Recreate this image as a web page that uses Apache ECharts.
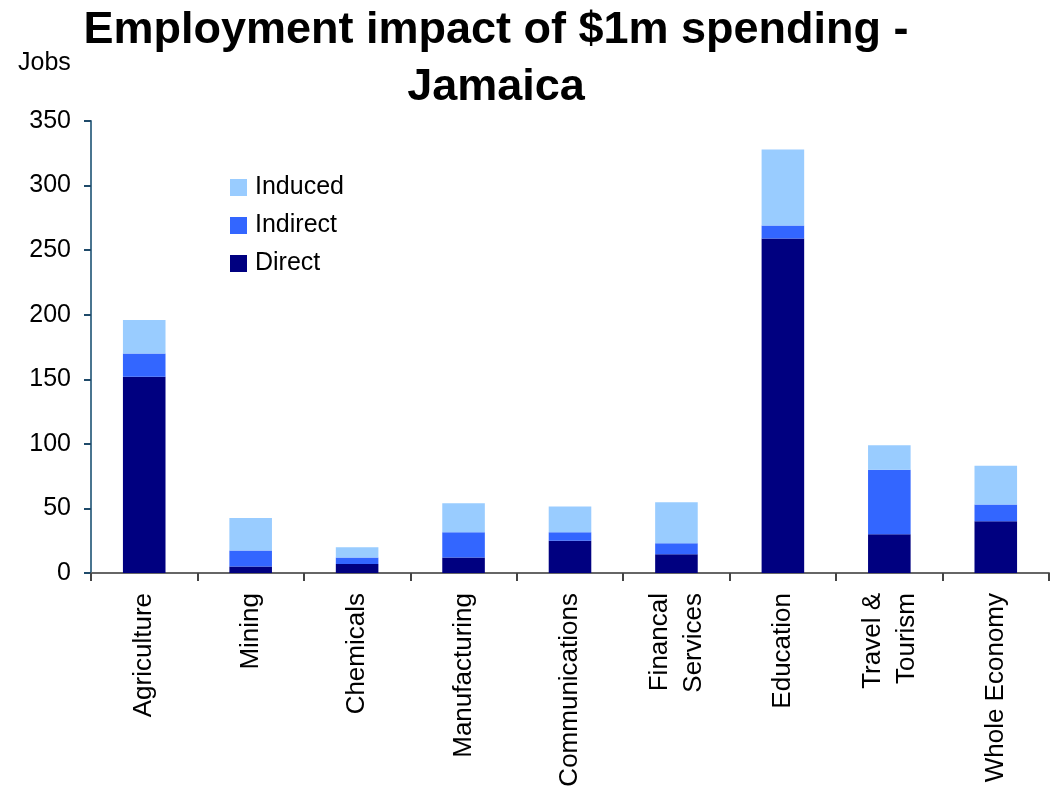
<!DOCTYPE html>
<html>
<head>
<meta charset="utf-8">
<script src="https://cdn.jsdelivr.net/npm/echarts@6/dist/echarts.min.js"></script>
<style>
  html, body { margin: 0; padding: 0; background: #ffffff; }
  #chart { width: 1052px; height: 790px; }
</style>
</head>
<body>
<div id="chart"></div>
<script>
// Jobs created per $1m spent, split by effect type
const categories = ['Agriculture', 'Mining', 'Chemicals', 'Manufacturing', 'Communications',
  'Financal\nServices', 'Education', 'Travel &\nTourism', 'Whole Economy'];
const direct   = [152, 5, 7, 12, 25, 14.5, 259, 30, 40];
const indirect = [18, 12.5, 5, 19.5, 6.5, 8.5, 10, 50, 13];
const induced  = [26, 25, 8, 22.5, 20, 31.7, 59, 19, 30];
const yTicks   = { min: 0, max: 350, interval: 50 };

const font = 'Liberation Sans, Arial, sans-serif';

const chart = echarts.init(document.getElementById('chart'));
chart.setOption({
  animation: false,
  backgroundColor: '#ffffff',
  title: {
    text: 'Employment impact of $1m spending -\nJamaica',
    left: 496,
    top: 2,
    padding: 0,
    textAlign: 'center',
    textStyle: { fontFamily: font, fontSize: 45, fontWeight: 'bold', color: '#000', lineHeight: 57 }
  },
  graphic: [{
    type: 'text', left: 18, top: 51,
    style: { text: 'Jobs', font: '25px ' + font, fill: '#000' }
  }],
  legend: {
    orient: 'vertical',
    left: 225, top: 170,
    itemWidth: 17, itemHeight: 17, itemGap: 13,
    icon: 'rect',
    data: ['Induced', 'Indirect', 'Direct'],
    textStyle: { fontFamily: font, fontSize: 25, lineHeight: 25, color: '#000', padding: [0, 0, 0, 3] }
  },
  grid: { left: 91, right: 3, top: 121, bottom: 217, containLabel: false },
  xAxis: {
    type: 'category',
    data: categories,
    axisLine: { lineStyle: { color: '#666666', width: 2 } },
    axisTick: { show: true, length: 8, lineStyle: { color: '#444', width: 2 } },
    axisLabel: {
      rotate: 90, interval: 0, margin: 20,
      fontFamily: font, fontSize: 26, color: '#000', lineHeight: 34
    }
  },
  yAxis: {
    type: 'value',
    min: yTicks.min, max: yTicks.max, interval: yTicks.interval,
    splitLine: { show: false },
    axisLine: { show: true, lineStyle: { color: '#4a7590', width: 2 } },
    axisTick: { show: true, length: 7, lineStyle: { color: '#1f4a6a', width: 2 } },
    axisLabel: { margin: 20, fontFamily: font, fontSize: 25, color: '#000' }
  },
  series: [
    { name: 'Direct', type: 'bar', stack: 'jobs', data: direct, barWidth: '40%',
      itemStyle: { color: '#000080' } },
    { name: 'Indirect', type: 'bar', stack: 'jobs', data: indirect,
      itemStyle: { color: '#3366ff' } },
    { name: 'Induced', type: 'bar', stack: 'jobs', data: induced,
      itemStyle: { color: '#99ccff' } }
  ]
});
</script>
</body>
</html>
